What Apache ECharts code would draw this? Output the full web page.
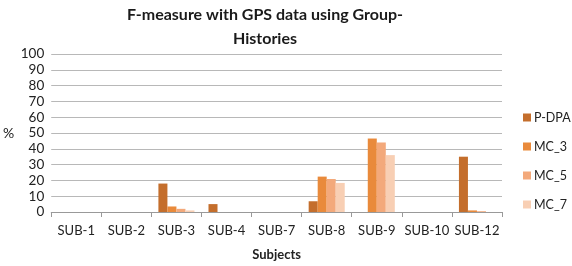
<!DOCTYPE html>
<html>
<head>
<meta charset="utf-8">
<script src="https://cdn.jsdelivr.net/npm/echarts@6/dist/echarts.min.js"></script>
<style>
  html, body { margin: 0; padding: 0; background: #fff; }
  #chart { width: 572px; height: 266px; }
</style>
</head>
<body>
<div id="chart"></div>
<script>
// data
const subjects = ['SUB-1', 'SUB-2', 'SUB-3', 'SUB-4', 'SUB-7', 'SUB-8', 'SUB-9', 'SUB-10', 'SUB-12']
const pDpa = [0, 0, 18, 5, 0, 6.8, 0, 0, 35]
const mc3 = [0, 0, 3.5, 0, 0, 22.4, 46.5, 0, 1]
const mc5 = [0, 0, 2, 0, 0, 20.9, 44, 0, 0.5]
const mc7 = [0, 0, 1, 0, 0, 18.4, 36, 0, 0]
const yTicks = [0, 10, 20, 30, 40, 50, 60, 70, 80, 90, 100]

const font = 'Lato, "Open Sans", sans-serif'
const chart = echarts.init(document.getElementById('chart'))

const mkSeries = (name, data, color) => {
  return {
    name: name, type: 'bar', data: data,
    barGap: '0%', barCategoryGap: '28%',
    itemStyle: {color: color}
  }
}

const option = {
  animation: false,
  textStyle: {fontFamily: font},
  title: {
    text: 'F-measure with GPS data using Group-\nHistories',
    left: 260, top: -2, textAlign: 'center',
    textStyle: {fontSize: 16, fontWeight: 'bold', color: '#1a1a1a', lineHeight: 24, fontFamily: font}
  },
  legend: {
    orient: 'vertical', left: 523, top: 111, itemGap: 16, padding: 0,
    itemWidth: 8, itemHeight: 8, icon: 'rect',
    textStyle: {fontSize: 12.5, color: '#222', fontFamily: font, padding: [0, 0, 0, -2]},
    data: ['P-DPA', 'MC_3', 'MC_5', 'MC_7']
  },
  grid: {left: 50, right: 70, top: 54, bottom: 54},
  xAxis: {
    type: 'category', data: subjects,
    name: 'Subjects', nameLocation: 'middle', nameGap: 36,
    nameTextStyle: {fontSize: 13, fontWeight: 'bold', color: '#222'},
    axisLine: {lineStyle: {color: '#999'}},
    axisTick: {show: true, length: 5, lineStyle: {color: '#999'}},
    axisLabel: {fontSize: 13, color: '#222', margin: 12, interval: 0}
  },
  yAxis: {
    type: 'value', min: 0, max: 100, interval: 10,
    name: '%', nameLocation: 'middle', nameGap: 37, nameRotate: 0,
    nameTextStyle: {fontSize: 14, color: '#222'},
    axisLine: {show: false},
    axisTick: {show: false},
    splitLine: {lineStyle: {color: '#b8b8b8'}},
    axisLabel: {
      fontSize: 13.5, color: '#222', margin: 7,
      formatter: v => yTicks.includes(v) ? String(v) : ''
    }
  },
  series: [
    mkSeries('P-DPA', pDpa, '#c46e2c'),
    mkSeries('MC_3', mc3, '#e98a3b'),
    mkSeries('MC_5', mc5, '#f3a97b'),
    mkSeries('MC_7', mc7, '#f8cfb4')
  ]
}
chart.setOption(option)
</script>
</body>
</html>
